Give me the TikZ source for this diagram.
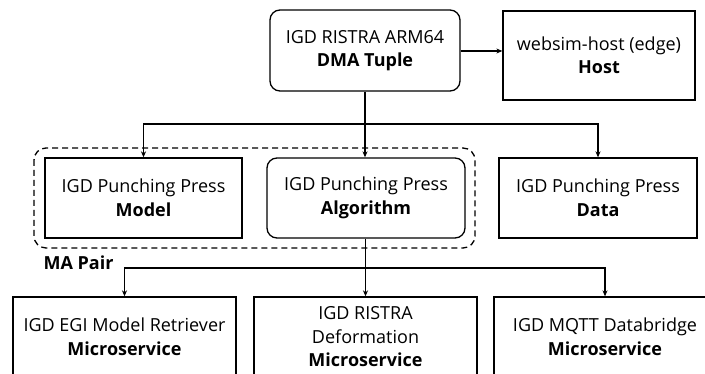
\documentclass[tikz,border=0pt]{standalone}
\usepackage{fontspec}
\setmainfont{Open Sans}
\usetikzlibrary{arrows.meta,positioning,fit}
\begin{document}
\begin{tikzpicture}[x=1pt,y=-1pt,
  box/.style={draw=black,line width=1.3pt,minimum height=80pt,align=center,inner sep=2pt,
    font=\fontsize{18}{23.5}\selectfont},
  rbox/.style={box,rounded corners=10pt},
  conn/.style={line width=1.1pt},
  arr/.style={conn,-{Stealth[length=6pt,width=5pt]}},
  grp/.style={draw=black,dashed,dash pattern=on 6pt off 4pt,line width=1.3pt,rounded corners=12pt}]
\useasboundingbox (0,0) rectangle (705,374);
\clip (0,0) rectangle (705,374);
\fill[white] (0,0) rectangle (705,374);

\node[rbox,minimum width=190pt,minimum height=81pt] (dma) at (365,50.5) {IGD RISTRA ARM64\\\textbf{DMA Tuple}};
\node[box,minimum width=192pt,minimum height=89pt] (host) at (599,55.5) {websim-host (edge)\\\textbf{Host}};

\node[box,minimum width=197pt] (model) at (143.5,198) {IGD Punching Press\\\textbf{Model}};
\node[rbox,minimum width=198pt] (algo) at (366,198) {IGD Punching Press\\\textbf{Algorithm}};
\node[box,minimum width=198pt] (data) at (598,198) {IGD Punching Press\\\textbf{Data}};

\coordinate (g1) at (34,148);
\coordinate (g2) at (475,248);
\draw[grp] (g1) rectangle (g2);
\node[font=\fontsize{18}{23.5}\selectfont\bfseries] (ma) at (78.5,263) {MA Pair};

\node[box,minimum width=223pt] (ret) at (124.5,337) {IGD EGI Model Retriever\\\textbf{Microservice}};
\node[box,minimum width=223pt] (def) at (365.5,337) {IGD RISTRA\\Deformation\\\textbf{Microservice}};
\node[box,minimum width=222pt] (mqtt) at (605,337) {IGD MQTT Databridge\\\textbf{Microservice}};

\coordinate (j1) at (365,124);
\draw[conn] (dma.south -| j1) -- (j1);
\draw[arr] (j1) -| (model.north);
\draw[arr] (j1) -- (algo.north -| j1);
\draw[arr] (j1) -| (data.north);
\draw[arr] (dma.east |- 0,51) -- (host.west |- 0,51);

\coordinate (j2) at (365.5,268);
\draw[conn] (algo.south -| j2) -- (j2);
\draw[arr] (j2) -| (ret.north);
\draw[arr] (j2) -- (def.north);
\draw[arr] (j2) -| (mqtt.north);
\end{tikzpicture}
\end{document}
